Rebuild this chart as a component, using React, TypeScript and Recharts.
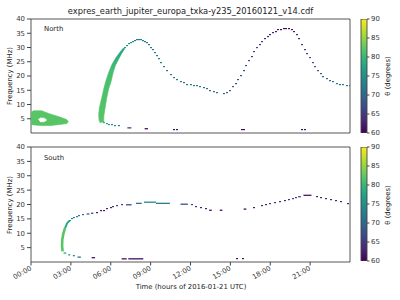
import { Bar, ComposedChart, Line, ReferenceArea, Scatter, XAxis, YAxis } from 'recharts';

const FONT = 'DejaVu Sans';
const TITLE = 'expres_earth_jupiter_europa_txka-y235_20160121_v14.cdf';

const HOUR_TICKS = [0, 3, 6, 9, 12, 15, 18, 21];
const HOUR_LABELS = ['00:00', '03:00', '06:00', '09:00', '12:00', '15:00', '18:00', '21:00'];
const FREQ_TICKS = [5, 10, 15, 20, 25, 30, 35, 40];
const THETA_TICKS = [60, 65, 70, 75, 80, 85, 90];

const VIRIDIS = ['#440154', '#482878', '#3e4989', '#31688e', '#26828e', '#1f9e89', '#35b779', '#6ece58', '#b5de2b', '#fde725'];

// North: emission blob at the start of the day [hour, MHz]
const northBlobOuter = [
  [0, 2.9], [0, 7.0], [0.17, 7.8], [0.8, 7.8], [1.43, 6.7], [2.18, 5.6], [2.68, 4.7],
  [2.81, 4.0], [2.7, 3.3], [2.18, 3.0], [1.5, 2.6], [0.8, 2.6], [0.2, 2.8],
];
const northBlobHole = [[0.55, 4.7], [0.7, 5.3], [1.0, 5.2], [1.18, 4.6], [1.05, 4.0], [0.7, 3.9]];

// North: thick rising band [hour, MHz]
const northBand = [
  [5.2, 3.6], [5.12, 4.5], [5.09, 6.4], [5.14, 8.8], [5.32, 12.3], [5.49, 15.8], [5.62, 18.1],
  [5.87, 21.6], [6.09, 24.0], [6.37, 26.3], [6.65, 28.1], [6.95, 29.8],
  [7.05, 29.6], [6.82, 27.9], [6.6, 26.0], [6.35, 23.7], [6.19, 21.4], [6.02, 18.0],
  [5.85, 15.6], [5.69, 12.1], [5.57, 8.6], [5.49, 6.3], [5.47, 4.4], [5.5, 3.8],
];

// North: single points [hour, MHz, theta]
const northDots = [
  [5.5, 3.5, 79], [5.7, 3.2, 77], [5.9, 2.95, 76], [6.1, 2.75, 75], [6.35, 2.5, 74], [6.6, 2.3, 73],
  [7.05, 30.0, 76], [7.2, 30.7, 75], [7.35, 31.2, 75], [7.5, 31.7, 74], [7.65, 32.0, 74], [7.8, 32.3, 73],
  [7.95, 32.5, 73], [8.1, 32.6, 73], [8.25, 32.5, 73], [8.4, 32.3, 73], [8.55, 32.0, 72], [8.7, 31.5, 72],
  [8.85, 30.8, 72], [9.0, 30.0, 72], [9.15, 29.0, 72], [9.3, 28.0, 72], [9.45, 26.9, 72], [9.6, 25.8, 72],
  [9.8, 24.4, 72], [10.0, 23.2, 72], [10.25, 21.6, 72], [10.5, 20.3, 72], [10.75, 19.4, 72], [11.0, 18.6, 72],
  [11.25, 18.0, 72], [11.5, 17.4, 72], [11.75, 17.0, 72], [12.0, 16.8, 72], [12.25, 16.6, 72], [12.5, 16.4, 72],
  [12.75, 16.1, 72], [13.0, 15.8, 71], [13.25, 15.4, 71], [13.5, 14.9, 71], [13.75, 14.4, 71], [14.0, 13.9, 70],
  [14.5, 13.6, 70], [14.75, 14.0, 69], [15.0, 14.9, 69], [15.2, 16.0, 69], [15.4, 17.2, 68], [15.6, 18.6, 68],
  [15.8, 20.0, 68], [16.0, 21.8, 67], [16.2, 23.6, 67], [16.4, 25.3, 67], [16.6, 26.8, 66], [16.8, 28.3, 66],
  [17.0, 29.7, 66], [17.2, 31.0, 65], [17.4, 32.0, 65], [17.6, 32.9, 64], [17.8, 33.7, 64], [18.0, 34.4, 63],
  [18.2, 35.1, 63], [18.4, 35.6, 62], [18.6, 36.0, 62], [18.8, 36.3, 61], [19.0, 36.5, 61], [19.2, 36.6, 61],
  [19.4, 36.5, 61], [19.6, 36.1, 62], [19.8, 35.4, 62], [20.0, 34.4, 63], [20.2, 32.9, 64], [20.4, 31.0, 65],
  [20.6, 29.2, 65], [20.8, 27.6, 66], [21.0, 26.2, 67], [21.2, 24.6, 67], [21.4, 23.1, 68], [21.6, 21.9, 68],
  [21.8, 20.7, 69], [22.0, 19.8, 69], [22.25, 19.0, 70], [22.5, 18.4, 70], [22.75, 17.8, 71], [23.0, 17.3, 71],
  [23.25, 16.9, 72], [23.5, 16.7, 72], [23.75, 16.6, 72], [24.0, 16.5, 72],
  [10.75, 1.2, 61], [11.0, 1.2, 61], [15.85, 1.2, 61], [16.05, 1.2, 61], [20.4, 1.2, 61], [20.65, 1.2, 61],
];
// North: runs of consecutive points [start hour, end hour, MHz, theta]
const northDashes = [[7.25, 7.55, 1.8, 66], [8.55, 8.8, 1.5, 61]];

// South: thick band [hour, MHz]
const southBandLow = [[2.38, 3.7], [2.34, 5.4], [2.35, 7.7], [2.44, 10.0], [2.56, 11.8]];
const southBandHigh = [[2.56, 11.8], [2.72, 13.5], [2.9, 14.4]];

const southDots = [
  [2.93, 14.4, 76], [3.06, 14.9, 75], [3.26, 15.2, 75], [3.44, 15.8, 74], [3.64, 16.1, 73], [3.89, 16.5, 71],
  [4.94, 17.2, 62], [5.24, 17.6, 62], [5.52, 17.9, 62], [5.74, 18.3, 63], [6.02, 18.7, 63], [6.19, 19.0, 64],
  [6.49, 19.5, 66], [6.82, 19.7, 66], [12.1, 19.7, 66], [12.45, 19.3, 64], [12.8, 18.7, 63], [13.15, 18.4, 62],
  [16.8, 18.7, 62], [17.35, 19.5, 63], [17.7, 19.8, 63], [18.0, 20.2, 64], [18.35, 20.4, 64], [18.7, 20.8, 64],
  [19.1, 21.2, 64], [19.4, 21.5, 64], [19.7, 21.9, 65], [19.97, 22.3, 66], [21.5, 22.7, 63], [21.85, 22.3, 63],
  [22.2, 21.9, 63], [22.6, 21.7, 63], [22.95, 21.3, 63], [23.3, 20.9, 63], [23.85, 20.1, 63],
  [15.52, 1.0, 61], [15.97, 1.0, 61],
];
const southDashes = [
  [4.19, 4.39, 16.7, 68], [4.51, 4.69, 16.95, 67], [7.15, 7.57, 19.9, 67], [7.9, 8.33, 20.4, 71],
  [8.5, 9.4, 20.8, 74], [9.4, 10.45, 20.4, 73], [11.25, 11.8, 20.1, 67], [13.4, 13.6, 18.0, 61],
  [14.2, 14.4, 18.0, 61], [16.0, 16.2, 18.4, 61], [20.1, 20.3, 22.7, 66], [20.5, 21.1, 23.2, 62],
  [2.45, 2.65, 3.1, 78], [2.8, 2.95, 2.5, 76], [3.15, 3.3, 2.2, 74], [3.5, 3.75, 1.7, 71],
  [4.56, 4.82, 1.5, 62], [6.82, 7.2, 1.1, 61], [7.32, 8.45, 1.1, 61],
];

function viridis(theta: number): string {
  const t = Math.min(1, Math.max(0, (theta - 60) / 30)) * 9;
  const i = Math.min(8, Math.floor(t));
  const k = t - i;
  const a = VIRIDIS[i];
  const b = VIRIDIS[i + 1];
  const ch = (s: string, o: number) => parseInt(s.slice(o, o + 2), 16);
  const mix = (o: number) => Math.round(ch(a, o) + (ch(b, o) - ch(a, o)) * k);
  return `rgb(${mix(1)},${mix(3)},${mix(5)})`;
}

const toPts = (arr: number[][]) => arr.map(([t, f]) => ({ t, f }));

const DotShape = (p: any) => (
  <rect x={Math.round(p.cx) - 1} y={Math.round(p.cy) - 1} width={2} height={1.2} fill={viridis(p.payload.theta)} />
);

const TimeTick = (p: any) => {
  const i = HOUR_TICKS.indexOf(p.payload.value);
  const x = p.x + 1;
  const y = p.y + 2;
  return (
    <text x={x} y={y} transform={`rotate(-30, ${x}, ${y})`} textAnchor="end" fontSize={6.9} fill="#333" fontFamily={FONT}>
      {HOUR_LABELS[i]}
    </text>
  );
};

function Polygon({ pts, fill }: { pts: number[][]; fill: string }) {
  return (
    <Scatter
      data={toPts(pts)}
      line={{ fill, stroke: fill, strokeWidth: 0.6 }}
      shape={() => <g />}
      legendType="none"
      isAnimationActive={false}
    />
  );
}

function Panel({ south }: { south: boolean }) {
  const dots = south ? southDots : northDots;
  const dashes = south ? southDashes : northDashes;
  return (
    <ComposedChart
      width={400}
      height={south ? 166 : 145}
      margin={{ top: south ? 13 : 19, right: 50, bottom: 0, left: 0 }}
    >
      <defs>
        <linearGradient id="bandGrad" x1="0" y1="1" x2="0" y2="0">
          <stop offset="0%" stopColor={viridis(82)} />
          <stop offset="70%" stopColor={viridis(81)} />
          <stop offset="100%" stopColor={viridis(77)} />
        </linearGradient>
      </defs>
      <XAxis
        dataKey="t"
        type="number"
        domain={[0, 24]}
        ticks={HOUR_TICKS}
        axisLine={false}
        tickLine={{ stroke: '#444' }}
        tickSize={3.5}
        tickMargin={2}
        height={south ? 38 : 12}
        tick={south ? <TimeTick /> : false}
        allowDataOverflow
      />
      <YAxis
        dataKey="f"
        type="number"
        domain={[0, 40]}
        ticks={FREQ_TICKS}
        width={31}
        axisLine={false}
        tickLine={{ stroke: '#444' }}
        tickSize={4}
        tickMargin={2}
        tick={{ fontSize: 6.9, fill: '#333', fontFamily: FONT }}
        allowDataOverflow
      />
      {!south && <Polygon pts={northBlobOuter} fill={viridis(82)} />}
      {!south && <Polygon pts={northBlobHole} fill="#ffffff" />}
      {!south && <Polygon pts={northBand} fill="url(#bandGrad)" />}
      {south && (
        <Line data={toPts(southBandLow)} dataKey="f" stroke={viridis(82)} strokeWidth={2.6} dot={false} activeDot={false} isAnimationActive={false} />
      )}
      {south && (
        <Line data={toPts(southBandHigh)} dataKey="f" stroke={viridis(78)} strokeWidth={2} dot={false} activeDot={false} isAnimationActive={false} />
      )}
      {dashes.map(([t0, t1, f, th], i) => (
        <Line
          key={i}
          data={[{ t: t0, f }, { t: t1, f }]}
          dataKey="f"
          stroke={viridis(th)}
          strokeWidth={1.3}
          dot={false}
          activeDot={false}
          isAnimationActive={false}
        />
      ))}
      <Scatter
        data={dots.map(([t, f, theta]) => ({ t, f, theta }))}
        shape={DotShape}
        isAnimationActive={false}
      />
      <ReferenceArea x1={0} x2={24} y1={0} y2={40} fill="none" stroke="#444" strokeWidth={0.9} ifOverflow="visible" />
    </ComposedChart>
  );
}

function ColorBar({ id }: { id: string }) {
  return (
    <ComposedChart
      width={45}
      height={145}
      margin={{ top: 19, right: 0, bottom: 12, left: 6 }}
      data={[{ name: 'theta', range: [60, 90] }]}
      barCategoryGap={0}
    >
      <defs>
        <linearGradient id={id} x1="0" y1="1" x2="0" y2="0">
          {VIRIDIS.map((c, i) => (
            <stop key={i} offset={`${(i / 9) * 100}%`} stopColor={c} />
          ))}
        </linearGradient>
      </defs>
      <XAxis dataKey="name" type="category" hide />
      <YAxis
        type="number"
        orientation="right"
        domain={[60, 90]}
        ticks={THETA_TICKS}
        width={33}
        axisLine={false}
        tickLine={{ stroke: '#444' }}
        tickSize={2.5}
        tickMargin={1.5}
        tick={{ fontSize: 6.9, fill: '#333', fontFamily: FONT }}
        allowDataOverflow
      />
      <Bar dataKey="range" fill={`url(#${id})`} stroke="#444" strokeWidth={0.9} isAnimationActive={false} />
    </ComposedChart>
  );
}

const abs = (left: number, top: number): React.CSSProperties => ({ position: 'absolute', left, top });
const textStyle: React.CSSProperties = { fontFamily: FONT, fontSize: 6.9, color: '#222', whiteSpace: 'nowrap', lineHeight: 1 };

function Rotated({ x, y, text }: { x: number; y: number; text: string }) {
  return (
    <div style={{ ...abs(x, y), ...textStyle, transform: 'translate(-50%, -50%) rotate(-90deg)' }}>{text}</div>
  );
}

export default function App() {
  return (
    <div style={{ position: 'absolute', left: 0, top: 0, width: 400, height: 300, background: '#fff', overflow: 'hidden' }}>
      <div style={abs(0, 0)}>
        <Panel south={false} />
      </div>
      <div style={abs(0, 134)}>
        <Panel south />
      </div>
      <div style={abs(355, 0)}>
        <ColorBar id="cbN" />
      </div>
      <div style={abs(355, 128)}>
        <ColorBar id="cbS" />
      </div>
      <div style={{ ...abs(190.5, 11), ...textStyle, fontSize: 8.3, transform: 'translate(-50%, -50%)' }}>{TITLE}</div>
      <div style={{ ...abs(44, 26), ...textStyle }}>North</div>
      <div style={{ ...abs(44, 155), ...textStyle }}>South</div>
      <Rotated x={10} y={76} text="Frequency (MHz)" />
      <Rotated x={10} y={205} text="Frequency (MHz)" />
      <Rotated x={388} y={76} text="θ (degrees)" />
      <Rotated x={388} y={205} text="θ (degrees)" />
      <div style={{ ...abs(191, 287), ...textStyle, transform: 'translate(-50%, -50%)' }}>Time (hours of 2016-01-21 UTC)</div>
    </div>
  );
}
